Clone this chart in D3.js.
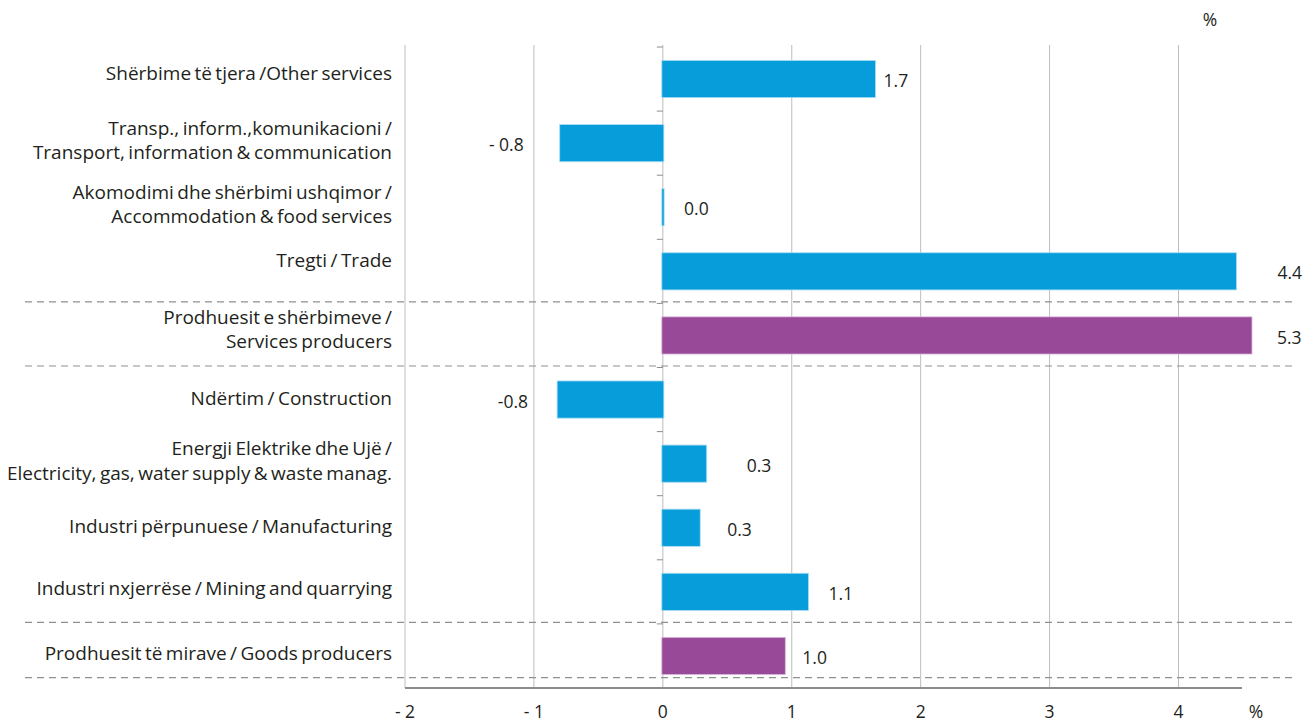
<!DOCTYPE html>
<html>
<head>
<meta charset="utf-8">
<script src="https://cdn.jsdelivr.net/npm/d3@7"></script>
<style>
  body { margin: 0; background: #fff; }
  svg text { font-family: "Open Sans", "Noto Sans", sans-serif; fill: #231f20; }
</style>
</head>
<body>
<svg id="chart" width="1315" height="722"></svg>
<script>
// ---- data ----
const categories = [
  ["Shërbime të tjera /Other services"],
  ["Transp., inform.,komunikacioni /", "Transport, information & communication"],
  ["Akomodimi dhe shërbimi ushqimor /", "Accommodation & food services"],
  ["Tregti / Trade"],
  ["Prodhuesit e shërbimeve /", "Services producers"],
  ["Ndërtim / Construction"],
  ["Energji Elektrike dhe Ujë /", "Electricity, gas, water supply & waste manag."],
  ["Industri përpunuese / Manufacturing"],
  ["Industri nxjerrëse / Mining and quarrying"],
  ["Prodhuesit të mirave / Goods producers"]
];
const barValues = [1.65, -0.8, 0.01, 4.45, 4.57, -0.82, 0.34, 0.29, 1.13, 0.95];
const valueLabels = ["1.7", "- 0.8", "0.0", "4.4", "5.3", "-0.8", "0.3", "0.3", "1.1", "1.0"];
const isAggregate = [false, false, false, false, true, false, false, false, false, true];
const xTicks = [-2, -1, 0, 1, 2, 3, 4];
const xTickLabels = ["- 2", "- 1", "0", "1", "2", "3", "4"];
const separators = [4, 5, 9, 9.86]; // in category-band units

// ---- layout ----
const labelDx = [8, -36, 20, 41, 25, -29, 40, 27, 20, 17];
const labelDy = [-6, -3, -3, -11, -6, -1, -3, -1, -4, -3];
const COLORS = { bar: "#079dda", agg: "#984a99", grid: "#bdbdbd", axis: "#8c8c8c", dash: "#8f8f8f" };

const svg = d3.select("#chart");
const x = d3.scaleLinear().domain([-2, 4]).range([405, 1178.5]);
const idx = d3.range(categories.length);
const y = d3.scaleBand().domain(idx).range([47, 688]).paddingInner(0.42).paddingOuter(0.21);
const step = y.step();
const yTop = 47;

// gridlines
svg.append("g").selectAll("line").data(xTicks).join("line")
  .attr("x1", d => x(d)).attr("x2", d => x(d))
  .attr("y1", 45).attr("y2", 688)
  .attr("stroke", COLORS.grid).attr("stroke-width", 1);

// category axis at zero with ticks
const catAxis = svg.append("g");
catAxis.selectAll("line.tk").data(d3.range(categories.length + 1)).join("line")
  .attr("class", "tk")
  .attr("x1", x(0) - 6).attr("x2", x(0))
  .attr("y1", d => yTop + d * step).attr("y2", d => yTop + d * step)
  .attr("stroke", COLORS.axis).attr("stroke-width", 1);

// bars
svg.append("g").selectAll("rect").data(idx).join("rect")
  .attr("x", i => Math.min(x(0) - 1, x(barValues[i])))
  .attr("width", i => Math.max(2, Math.abs(x(barValues[i]) - x(0)) + 1))
  .attr("y", i => y(i))
  .attr("height", y.bandwidth())
  .attr("fill", i => isAggregate[i] ? COLORS.agg : COLORS.bar)
  .attr("stroke", i => isAggregate[i] ? "#d9b8da" : "#a9dcf3")
  .attr("stroke-width", 0.8);

// separators (dashed)
svg.append("g").selectAll("line").data(separators).join("line")
  .attr("x1", 25).attr("x2", 1294)
  .attr("y1", d => yTop + d * step - 1.5).attr("y2", d => yTop + d * step - 1.5)
  .attr("stroke", COLORS.dash).attr("stroke-width", 1.2)
  .attr("stroke-dasharray", "7,5");

// x axis
const xAxisG = svg.append("g").attr("transform", "translate(0,688)");
xAxisG.append("line").attr("x1", 405).attr("x2", 1242).attr("y1", 0).attr("y2", 0)
  .attr("stroke", COLORS.axis).attr("stroke-width", 2);
xAxisG.selectAll("text").data(xTicks).join("text")
  .attr("x", d => x(d)).attr("y", 30)
  .attr("text-anchor", "middle").attr("font-size", 17.5)
  .text((d, i) => xTickLabels[i]);
svg.append("text").attr("x", 1256).attr("y", 718).attr("text-anchor", "middle")
  .attr("font-size", 17.5).text("%");
svg.append("text").attr("x", 1210).attr("y", 26).attr("text-anchor", "middle")
  .attr("font-size", 17.5).text("%");

// category labels
const lab = svg.append("g");
idx.forEach(i => {
  const lines = categories[i];
  const cy = y(i) + y.bandwidth() / 2 + labelDy[i];
  const lh = 24.5;
  const t = lab.append("text").attr("text-anchor", "end").attr("font-size", 19)
    .attr("word-spacing", "-1.5");
  lines.forEach((ln, k) => {
    t.append("tspan").attr("x", 392)
      .attr("y", cy + (k - (lines.length - 1) / 2) * lh)
      .attr("dy", "0.35em").text(ln);
  });
});

// value labels
svg.append("g").selectAll("text").data(idx).join("text")
  .attr("x", i => x(barValues[i]) + labelDx[i])
  .attr("y", i => y(i) + y.bandwidth() / 2 + 2)
  .attr("dy", "0.35em")
  .attr("text-anchor", i => barValues[i] < 0 ? "end" : "start")
  .attr("font-size", 17.5)
  .text(i => valueLabels[i]);
</script>
</body>
</html>
